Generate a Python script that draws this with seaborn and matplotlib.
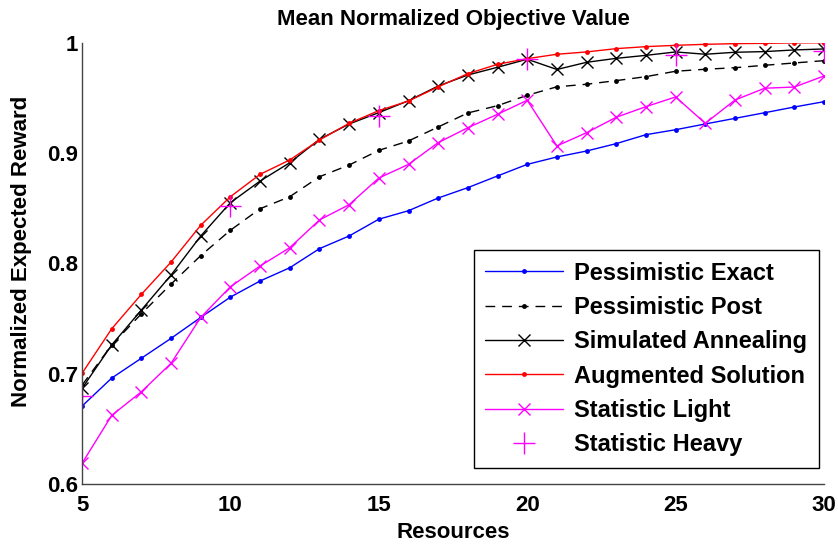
import matplotlib
matplotlib.use("Agg")
import matplotlib.pyplot as plt
import seaborn as sns
import numpy as np

resources = list(range(5, 31))
heavy_x = [5, 10, 15, 20, 25, 30]

pess_exact = [0.6706, 0.696, 0.714, 0.732, 0.751, 0.7694, 0.784, 0.796, 0.8133, 0.8248,
              0.840, 0.8477, 0.8592, 0.8686, 0.8792, 0.8897, 0.8964, 0.9018, 0.9085, 0.9166,
              0.9211, 0.9263, 0.9314, 0.9365, 0.9417, 0.9465]
pess_post = [0.6896, 0.726, 0.7543, 0.7812, 0.807, 0.830, 0.8495, 0.8604, 0.8785, 0.8891,
             0.9024, 0.9109, 0.9236, 0.9363, 0.9429, 0.9523, 0.960, 0.9623, 0.9656, 0.9692,
             0.9741, 0.9759, 0.9773, 0.9795, 0.9816, 0.9837]
sim_anneal = [0.6867, 0.726, 0.7577, 0.7894, 0.8248, 0.855, 0.8746, 0.8912, 0.9124, 0.9263,
              0.9366, 0.9474, 0.9607, 0.9707, 0.9777, 0.985, 0.9757, 0.9822, 0.9858, 0.9885,
              0.9916, 0.9895, 0.9913, 0.9919, 0.9934, 0.9943]
augmented = [0.7003, 0.7407, 0.7719, 0.8012, 0.8345, 0.8604, 0.8807, 0.8937, 0.9118, 0.9269,
             0.9384, 0.9471, 0.960, 0.9719, 0.9804, 0.9855, 0.9895, 0.9916, 0.9946, 0.9964,
             0.9976, 0.9985, 0.9991, 0.9994, 0.9998, 0.9999]
stat_light = [0.6187, 0.6622, 0.6836, 0.7094, 0.751, 0.7788, 0.7976, 0.8142, 0.8393, 0.8532,
              0.8773, 0.8897, 0.9094, 0.9229, 0.9351, 0.9478, 0.9064, 0.9184, 0.9324, 0.942,
              0.9508, 0.9269, 0.948, 0.9587, 0.9598, 0.9698]
stat_heavy = [0.6797, 0.852, 0.9338, 0.985, 0.9885, 0.9928]

x_ticks = [5, 10, 15, 20, 25, 30]
y_ticks = [0.6, 0.7, 0.8, 0.9, 1.0]
y_tick_labels = ["0.6", "0.7", "0.8", "0.9", "1"]

sns.set_style("white", {"text.color": "black", "axes.labelcolor": "black",
                        "xtick.color": "black", "ytick.color": "black"})
plt.rcParams['font.family'] = ['Liberation Sans', 'DejaVu Sans']

fig = plt.figure(figsize=(8.38, 5.47), dpi=100)
ax = fig.add_axes([0.0979, 0.1152, 0.8854, 0.8068])

common = dict(ax=ax, lw=1.0)
sns.lineplot(x=resources, y=pess_exact, color="blue", marker='o', markersize=3.5,
             markeredgewidth=0, label="Pessimistic Exact", **common)
sns.lineplot(x=resources, y=pess_post, color="black", marker='o', markersize=3.5,
             markeredgewidth=0, label="Pessimistic Post", **common)
ax.lines[-1].set_dashes([7, 5])
sns.lineplot(x=resources, y=sim_anneal, color="black", marker='x', markersize=8,
             markeredgewidth=1.0, markeredgecolor="black", label="Simulated Annealing", **common)
sns.lineplot(x=resources, y=augmented, color="red", marker='o', markersize=3.5,
             markeredgewidth=0, label="Augmented Solution", **common)
sns.lineplot(x=resources, y=stat_light, color="magenta", marker='x', markersize=8,
             markeredgewidth=1.0, markeredgecolor="magenta", label="Statistic Light", **common)
sns.lineplot(x=heavy_x, y=stat_heavy, color="magenta", linestyle='none', marker='+',
             markersize=16, markeredgewidth=1.0, markeredgecolor="magenta",
             label="Statistic Heavy", **common)

ax.set_xlim(5, 30)
ax.set_ylim(0.6, 1.0)
ax.set_xticks(x_ticks)
ax.set_yticks(y_ticks)
ax.set_yticklabels(y_tick_labels)
for lab in ax.get_xticklabels() + ax.get_yticklabels():
    lab.set_fontweight('bold')
    lab.set_fontsize(16)
    lab.set_color('black')
ax.tick_params(direction='in', length=6, width=0.8, color='#333333')
ax.tick_params(axis='x', pad=8)
ax.tick_params(axis='y', pad=3)
for s in ['top', 'right']:
    ax.spines[s].set_visible(False)
for s in ['left', 'bottom']:
    ax.spines[s].set_color('#444444')
    ax.spines[s].set_linewidth(1.0)

ax.set_xlabel("Resources", fontsize=16, fontweight='bold', labelpad=4.5, color='black')
ax.set_ylabel("Normalized Expected Reward", fontsize=16, fontweight='bold', color='black')
ax.yaxis.set_label_coords(-0.068, 0.526)
ax.set_title("Mean Normalized Objective Value", fontsize=16, fontweight='bold',
             pad=12.5, color='black')

leg = ax.legend(loc='lower right', bbox_to_anchor=(0.993, 0.036),
                prop={'weight': 'bold', 'size': 17}, frameon=True, fancybox=False,
                edgecolor='black', framealpha=1, borderpad=0.5, labelspacing=0.48,
                handlelength=3.3, handletextpad=0.45, borderaxespad=0)
leg.get_frame().set_linewidth(1.0)
for t in leg.get_texts():
    t.set_color('black')

fig.savefig("out.png", dpi=100)
